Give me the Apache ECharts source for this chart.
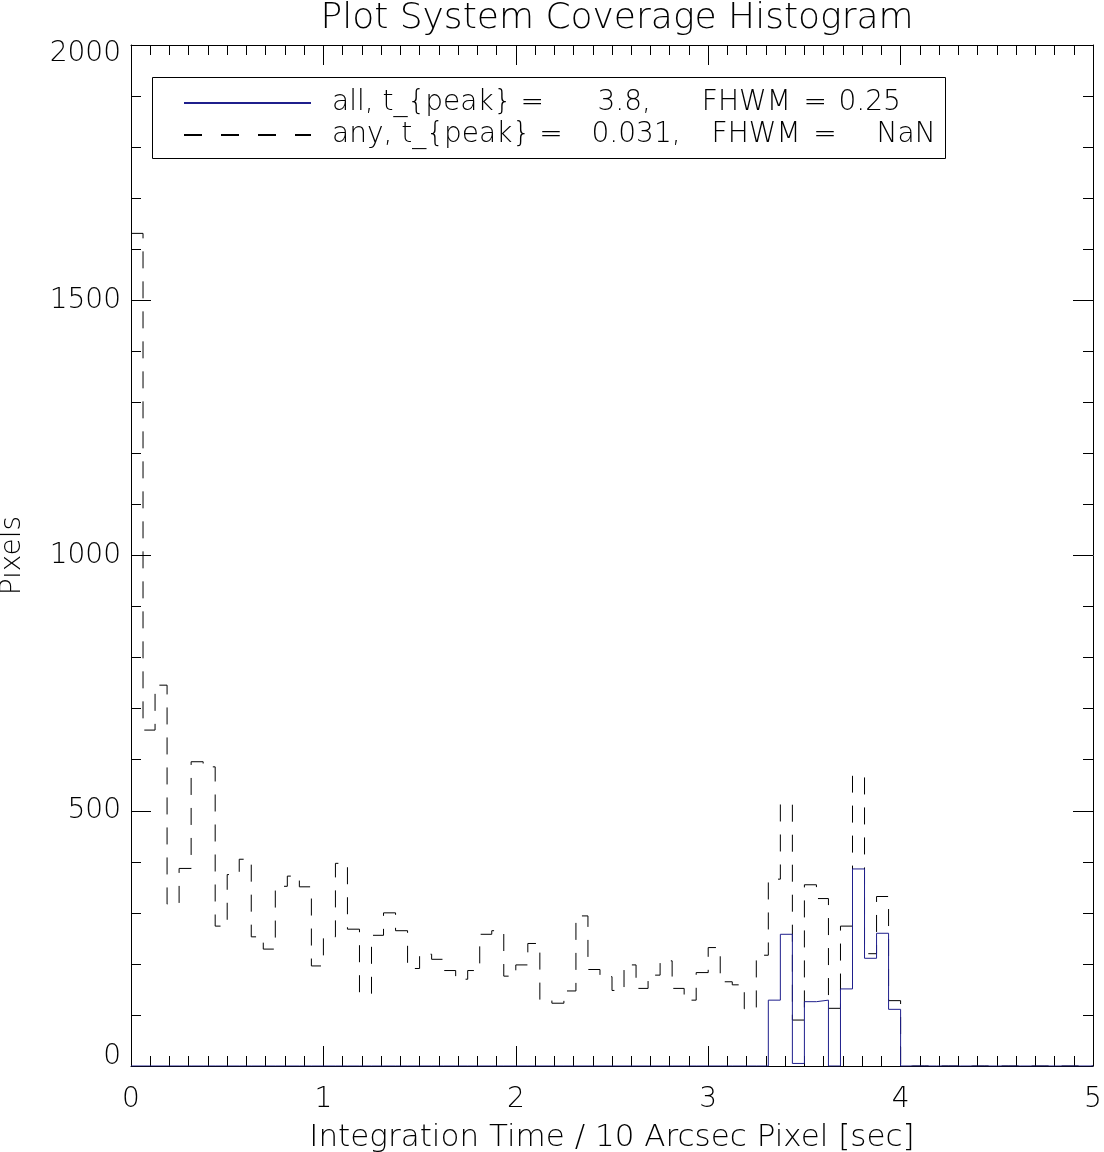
<!DOCTYPE html>
<html><head><meta charset="utf-8">
<script src="https://cdn.jsdelivr.net/npm/echarts@6/dist/echarts.min.js"></script>
<style>html,body{margin:0;padding:0;background:#fff}#c{width:1104px;height:1152px}</style>
</head><body><div id="c"></div>
<script>
// Histogram bin width (sec) and counts per bin, starting at 0
const binWidth = 0.0625;
const anyCounts = [
  1631, 658, 746, 317, 387, 596, 586, 274, 375, 405,
  253, 229, 352, 372, 351, 196, 253, 397, 268, 142,
  256, 300, 265, 191, 219, 209, 187, 170, 187, 258,
  265, 176, 198, 240, 129, 123, 147, 294, 189, 175,
  148, 198, 152, 178, 206, 152, 129, 183, 232, 165,
  159, 112, 217, 366, 513, 90, 355, 328, 113, 274,
  568, 220, 332, 128, 0, 0, 0, 0, 0, 0,
  0, 0, 0, 0, 0, 0, 0, 0, 0, 0
];
const allCounts = [
  0, 0, 0, 0, 0, 0, 0, 0, 0, 0,
  0, 0, 0, 0, 0, 0, 0, 0, 0, 0,
  0, 0, 0, 0, 0, 0, 0, 0, 0, 0,
  0, 0, 0, 0, 0, 0, 0, 0, 0, 0,
  0, 0, 0, 0, 0, 0, 0, 0, 0, 0,
  0, 0, 0, 129, 258, 5, 126, 129, 0, 151,
  386, 211, 260, 111, 0, 0, 0, 0, 0, 0,
  0, 0, 0, 0, 0, 0, 0, 0, 0, 0
];
const seriesNames = ['all', 'any'];
const peakLabels = ['3.8', '0.031'];
const fwhmLabels = ['0.25', 'NaN'];
const xRange = [0, 5];
const yRange = [0, 2000];

const FONT = 'DejaVu Sans';
const FW = 200;

function stepData(counts) {
  const d = counts.map((v, i) => [i * binWidth, v]);
  d.push([counts.length * binWidth, counts[counts.length - 1]]);
  return d;
}
const legendNames = seriesNames.map((n, i) =>
  n + ', t_{peak} = ' + peakLabels[i] + ', FHWM = ' + fwhmLabels[i]);

const txt = (extra) => Object.assign({fontSize: 28, fontFamily: FONT, fontWeight: FW, color: '#000'}, extra || {});
const seg = (w) => txt({width: w, align: 'right', lineHeight: 28});

const chart = echarts.init(document.getElementById('c'), null, {renderer: 'canvas'});
const axisCommon = {
  type: 'value',
  axisLine: {show: true, onZero: false, lineStyle: {color: '#000', width: 1}},
  axisTick: {show: true, inside: true, length: 20, lineStyle: {color: '#000', width: 1}},
  minorTick: {show: true, length: 10, lineStyle: {color: '#000', width: 1}},
  splitLine: {show: false},
  minorSplitLine: {show: false}
};
chart.setOption({
  animation: false,
  backgroundColor: '#fff',
  title: {
    text: 'Plot System Coverage Histogram',
    left: 612, textAlign: 'center', top: -4,
    textStyle: txt({fontSize: 36})
  },
  grid: {left: 131, right: 11, top: 45, bottom: 86, outerBoundsMode: 'none', containLabel: false},
  legend: {
    data: [
      {name: legendNames[0]},
      {name: legendNames[1], lineStyle: {type: [18, 19]}}
    ],
    orient: 'vertical',
    left: 183, top: 89,
    padding: 0,
    itemWidth: 127, itemHeight: 20, itemGap: 4,
    itemStyle: {color: 'rgba(0,0,0,0)', borderColor: 'rgba(0,0,0,0)', borderWidth: 0, opacity: 0},
    textStyle: txt({lineHeight: 28, padding: [0, 0, 0, 16],
      rich: {
        n0: seg(107), w0: seg(140), e0: seg(36), v0: seg(74),
        n1: seg(118), w1: seg(120), e1: seg(36), v1: seg(99)
      }}),
    formatter: function (name) {
      const i = legendNames.indexOf(name);
      return seriesNames[i] + ', t_{peak} =' + '{n' + i + '|' + peakLabels[i] + ',}' +
        '{w' + i + '|FHWM}' + '{e' + i + '|=}' + '{v' + i + '|' + fwhmLabels[i] + '}';
    }
  },
  graphic: [{
    type: 'rect', left: 152, top: 77, silent: true,
    shape: {width: 793, height: 81},
    style: {fill: 'rgba(0,0,0,0)', stroke: '#000', lineWidth: 1}
  }],
  xAxis: [
    Object.assign({}, axisCommon, {
      min: xRange[0], max: xRange[1], interval: 1, position: 'bottom',
      minorTick: Object.assign({}, axisCommon.minorTick, {splitNumber: 10}),
      axisLabel: txt({margin: 20, alignMinLabel: 'center', alignMaxLabel: 'center',
        formatter: (v) => String(v)}),
      name: 'Integration Time / 10 Arcsec Pixel [sec]',
      nameLocation: 'middle', nameGap: 56,
      nameTextStyle: txt({fontSize: 31})
    }),
    Object.assign({}, axisCommon, {
      min: xRange[0], max: xRange[1], interval: 1, position: 'top',
      minorTick: Object.assign({}, axisCommon.minorTick, {splitNumber: 10}),
      axisLabel: {show: false}
    })
  ],
  yAxis: [
    Object.assign({}, axisCommon, {
      min: yRange[0], max: yRange[1], interval: 500, position: 'left',
      minorTick: Object.assign({}, axisCommon.minorTick, {splitNumber: 5}),
      axisLabel: txt({margin: 10,
        formatter: function (v) {
          if (v === yRange[0]) return '{lo|' + v + '}';
          if (v === yRange[1]) return '{hi|' + v + '}';
          return String(v);
        },
        rich: {lo: txt({padding: [0, 0, 18, 0]}), hi: txt({padding: [18, 0, 0, 0]})}
      }),
      name: 'Pixels', nameLocation: 'middle', nameGap: 104,
      nameTextStyle: txt({fontSize: 28})
    }),
    Object.assign({}, axisCommon, {
      min: yRange[0], max: yRange[1], interval: 500, position: 'right',
      minorTick: Object.assign({}, axisCommon.minorTick, {splitNumber: 5}),
      axisLabel: {show: false}
    })
  ],
  series: [
    {
      name: legendNames[0], type: 'line', step: 'end', symbol: 'none', z: 3,
      xAxisIndex: 0, yAxisIndex: 0,
      data: stepData(allCounts),
      lineStyle: {color: '#1f1f8c', width: 1},
      itemStyle: {color: '#1f1f8c'}
    },
    {
      name: legendNames[1], type: 'line', step: 'end', symbol: 'none', z: 2,
      xAxisIndex: 0, yAxisIndex: 0,
      data: stepData(anyCounts),
      lineStyle: {color: '#000', width: 1, type: [17, 13]},
      itemStyle: {color: '#000'}
    }
  ]
});
</script>
</body></html>
